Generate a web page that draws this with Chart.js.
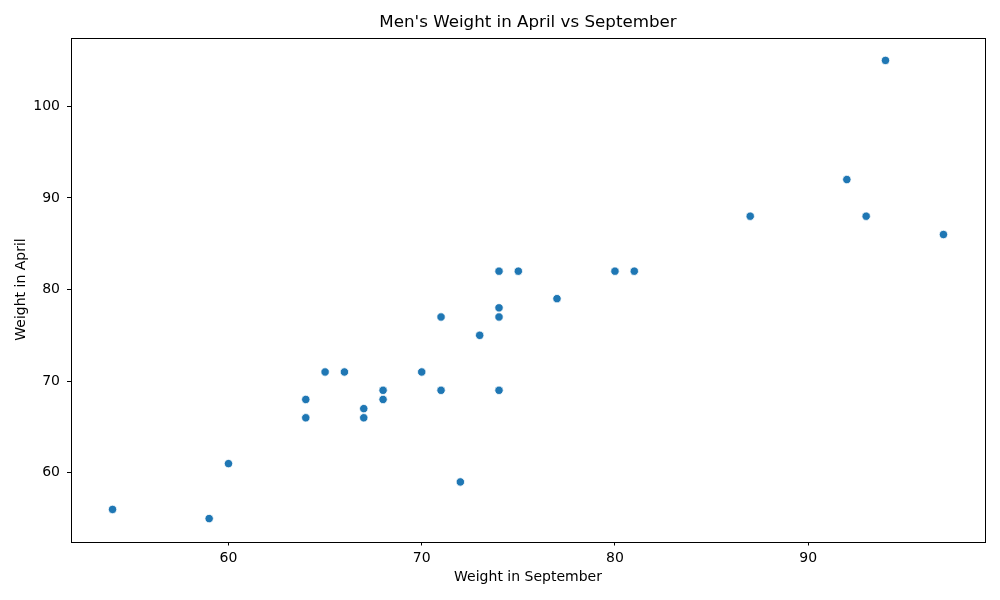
<!DOCTYPE html>
<html>
<head>
<meta charset="utf-8">
<script src="https://cdn.jsdelivr.net/npm/chart.js@4"></script>
<style>
  html, body { margin: 0; padding: 0; background: #fff; }
  #wrap { width: 1000px; height: 600px; }
</style>
</head>
<body>
<div id="wrap"><canvas id="scatter" width="1000" height="600"></canvas></div>
<script>
// data
const septWeight  = [54, 59, 60, 64, 64, 65, 66, 67, 67, 68, 68, 70, 71, 71, 72, 73, 74, 74, 74, 74, 75, 77, 80, 81, 87, 92, 93, 94, 97];
const aprilWeight = [56, 55, 61, 68, 66, 71, 71, 67, 66, 69, 68, 71, 77, 69, 59, 75, 82, 78, 77, 69, 82, 79, 82, 82, 88, 92, 88, 105, 86];
const xTicks = [60, 70, 80, 90];
const yTicks = [60, 70, 80, 90, 100];

const chartTitle = "Men's Weight in April vs September";
const FONT = "'DejaVu Sans', sans-serif";

const points = septWeight.map((x, i) => ({ x: x, y: aprilWeight[i] }));

// frame round the plot area plus the title, like matplotlib does
const framePlugin = {
  id: 'frame',
  afterDraw(chart) {
    const { ctx, chartArea: a } = chart;
    ctx.save();
    ctx.strokeStyle = '#000';
    ctx.lineWidth = 1;
    ctx.strokeRect(Math.round(a.left) + 0.5, Math.round(a.top) + 0.5,
                   Math.round(a.right - a.left), Math.round(a.bottom - a.top));
    ctx.fillStyle = '#000';
    ctx.font = '16.7px ' + FONT;
    ctx.textAlign = 'center';
    ctx.textBaseline = 'middle';
    ctx.fillText(chartTitle, (a.left + a.right) / 2, 22.5);
    ctx.restore();
  }
};

function axisGrid() {
  return { display: true, drawOnChartArea: false, drawTicks: true, tickLength: 4, color: '#000', lineWidth: 1 };
}

const ctx = document.getElementById('scatter').getContext('2d');
new Chart(ctx, {
  type: 'scatter',
  data: {
    datasets: [{
      data: points,
      backgroundColor: '#1f77b4',
      borderColor: '#ffffff',
      borderWidth: 0.8,
      pointRadius: 4.2,
      pointHoverRadius: 4.2
    }]
  },
  options: {
    responsive: false,
    animation: false,
    layout: { padding: { top: 37.5, right: 15, left: 0, bottom: 0 } },
    scales: {
      x: {
        type: 'linear',
        min: 51.85,
        max: 99.15,
        afterBuildTicks: s => { s.ticks = xTicks.map(v => ({ value: v })); },
        afterFit: s => { s.height = 58.5; },
        grid: axisGrid(),
        border: { display: false },
        ticks: { color: '#000', font: { family: FONT, size: 14 }, padding: 4, maxRotation: 0 },
        title: { display: true, text: 'Weight in September', color: '#000',
                 font: { family: FONT, size: 14 }, padding: { top: 0, bottom: 14 } }
      },
      y: {
        type: 'linear',
        min: 52.5,
        max: 107.5,
        afterBuildTicks: s => { s.ticks = yTicks.map(v => ({ value: v })); },
        afterFit: s => { s.width = 71; },
        grid: axisGrid(),
        border: { display: false },
        ticks: { color: '#000', font: { family: FONT, size: 14 }, padding: 7 },
        title: { display: true, text: 'Weight in April', color: '#000',
                 font: { family: FONT, size: 14 }, padding: { top: 12.6, bottom: 0 } }
      }
    },
    plugins: {
      legend: { display: false },
      title: { display: false },
      tooltip: { enabled: false }
    }
  },
  plugins: [framePlugin]
});
</script>
</body>
</html>
